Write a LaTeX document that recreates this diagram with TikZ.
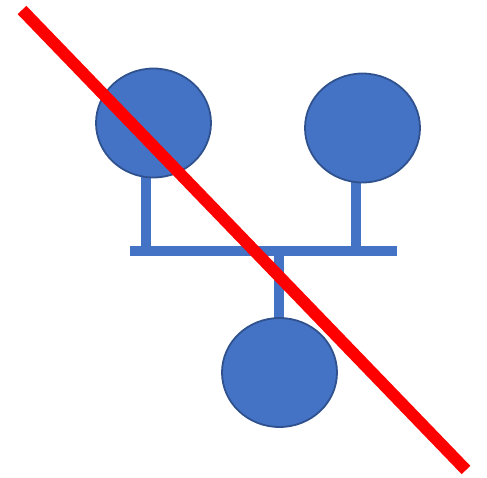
\documentclass[tikz,border=0pt]{standalone}
\usetikzlibrary{shapes.geometric,backgrounds}
\definecolor{fillblue}{HTML}{4472C4}
\definecolor{edgeblue}{HTML}{2F528F}
\definecolor{xred}{HTML}{FF0000}
\begin{document}
\begin{tikzpicture}[x=1pt,y=-1pt,
  blob/.style={ellipse,fill=fillblue,draw=edgeblue,line width=1.8pt,inner sep=0pt,minimum width=115pt,minimum height=109pt},
  link/.style={draw=fillblue,line width=10pt},
  cross/.style={draw=xred,line width=12pt}]
\useasboundingbox (0,0) rectangle (487,477);
\coordinate (barL) at (130,250.5);
\coordinate (barR) at (397,250.5);
\coordinate (j1) at (146,250.5);
\coordinate (j2) at (356,250.5);
\coordinate (j3) at (279,250.5);
\coordinate (xs) at (22,10);
\coordinate (xe) at (466,470);
\node[blob] (c1) at (153.5,123) {};
\node[blob] (c2) at (362.5,128) {};
\node[blob] (c3) at (279.5,372.5) {};
\begin{scope}[on background layer]
\path[link] (barL) -- (barR);
\path[link] (j1) -- (j1 |- c1.center);
\path[link] (j2) -- (j2 |- c2.center);
\path[link] (j3) -- (j3 |- c3.center);
\end{scope}
\path[cross] (xs) -- (xe);
\end{tikzpicture}
\end{document}
